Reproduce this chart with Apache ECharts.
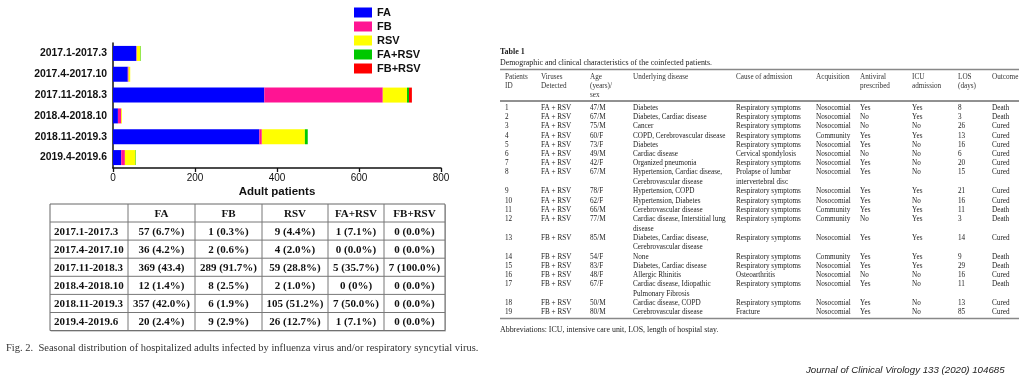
<!DOCTYPE html>
<html><head><meta charset="utf-8">
<script src="https://cdn.jsdelivr.net/npm/echarts@6/dist/echarts.min.js"></script>
<style>html,body{margin:0;padding:0;background:#fff}#c{width:1027px;height:382px}</style>
</head><body><div id="c"></div>
<script>
// ---------- Figure 2 data ----------
const periods = ['2017.1-2017.3','2017.4-2017.10','2017.11-2018.3','2018.4-2018.10','2018.11-2019.3','2019.4-2019.6'];
const seriesNames = ['FA','FB','RSV','FA+RSV','FB+RSV'];
const faCounts = [57,36,369,12,357,20];
const fbCounts = [1,2,289,8,6,9];
const rsvCounts = [9,4,59,2,105,26];
const faRsvCounts = [1,0,5,0,7,1];
const fbRsvCounts = [0,0,7,0,0,0];
const faPct = ['6.7%','4.2%','43.4','1.4%','42.0%','2.4%'];
const fbPct = ['0.3%','0.6%','91.7%','2.5%','1.9%','2.9%'];
const rsvPct = ['4.4%','2.0%','28.8%','1.0%','51.2%','12.7%'];
const faRsvPct = ['7.1%','0.0%','35.7%','0%','50.0%','7.1%'];
const fbRsvPct = ['0.0%','0.0%','100.0%','0.0%','0.0%','0.0%'];
const xTicks = [0,200,400,600,800];
const caption = 'Fig. 2.  Seasonal distribution of hospitalized adults infected by influenza virus and/or respiratory syncytial virus.';

// ---------- Table 1 data ----------
const t1Title = 'Table 1';
const t1Subtitle = 'Demographic and clinical characteristics of the coinfected patients.';
const t1Headers = ['Patients\nID','Viruses\nDetected','Age\n(years)/\nsex','Underlying disease','Cause of admission','Acquisition','Antiviral\nprescribed','ICU\nadmission','LOS\n(days)','Outcome'];
const patientIds = ['1','2','3','4','5','6','7','8','9','10','11','12','13','14','15','16','17','18','19'];
const viruses = ['FA + RSV','FA + RSV','FA + RSV','FA + RSV','FA + RSV','FA + RSV','FA + RSV','FA + RSV','FA + RSV','FA + RSV','FA + RSV','FA + RSV','FB + RSV','FB + RSV','FB + RSV','FB + RSV','FB + RSV','FB + RSV','FB + RSV'];
const ageSex = ['47/M','67/M','75/M','60/F','73/F','49/M','42/F','67/M','78/F','62/F','66/M','77/M','85/M','54/F','83/F','48/F','67/F','50/M','80/M'];
const underlying = ['Diabetes','Diabetes, Cardiac disease','Cancer','COPD, Cerebrovascular disease','Diabetes','Cardiac disease','Organized pneumonia','Hypertension, Cardiac disease,\nCerebrovascular disease','Hypertension, COPD','Hypertension, Diabetes','Cerebrovascular disease','Cardiac disease, Interstitial lung\ndisease','Diabetes, Cardiac disease,\nCerebrovascular disease','None','Diabetes, Cardiac disease','Allergic Rhinitis','Cardiac disease, Idiopathic\nPulmonary Fibrosis','Cardiac disease, COPD','Cerebrovascular disease'];
const causes = ['Respiratory symptoms','Respiratory symptoms','Respiratory symptoms','Respiratory symptoms','Respiratory symptoms','Cervical spondylosis','Respiratory symptoms','Prolapse of lumbar\nintervertebral disc','Respiratory symptoms','Respiratory symptoms','Respiratory symptoms','Respiratory symptoms','Respiratory symptoms','Respiratory symptoms','Respiratory symptoms','Osteoarthritis','Respiratory symptoms','Respiratory symptoms','Fracture'];
const acquisition = ['Nosocomial','Nosocomial','Nosocomial','Community','Nosocomial','Nosocomial','Nosocomial','Nosocomial','Nosocomial','Nosocomial','Community','Community','Nosocomial','Community','Nosocomial','Nosocomial','Nosocomial','Nosocomial','Nosocomial'];
const antiviral = ['Yes','No','No','Yes','Yes','No','Yes','Yes','Yes','Yes','Yes','No','Yes','Yes','Yes','No','Yes','Yes','Yes'];
const icu = ['Yes','Yes','No','Yes','No','No','No','No','Yes','No','Yes','Yes','Yes','Yes','Yes','No','No','No','No'];
const los = ['8','3','26','13','16','6','20','15','21','16','11','3','14','9','29','16','11','13','85'];
const outcome = ['Death','Death','Cured','Cured','Cured','Cured','Cured','Cured','Cured','Cured','Death','Death','Cured','Death','Death','Cured','Death','Cured','Cured'];
const t1Footnote = 'Abbreviations: ICU, intensive care unit, LOS, length of hospital stay.';
const journal = 'Journal of Clinical Virology 133 (2020) 104685';

// ---------- build ----------
const colors = ['#0000ff','#ff1493','#ffff00','#00c800','#ff0000'];
const counts = [faCounts,fbCounts,rsvCounts,faRsvCounts,fbRsvCounts];
const pcts = [faPct,fbPct,rsvPct,faRsvPct,fbRsvPct];

const g = [];
function txt(s,x,y,font,opt){ opt=opt||{}; g.push({type:'text',silent:true,style:Object.assign({text:s,x:x,y:y,font:font,fill:opt.fill||'#111',textAlign:opt.align||'left',textVerticalAlign:opt.va||'middle'},opt.lh?{lineHeight:opt.lh}:{})}); }
function line(x1,y1,x2,y2,stroke,w){ g.push({type:'line',silent:true,shape:{x1,y1,x2,y2},style:{stroke:stroke,lineWidth:w}}); }

// Left table (summary of Fig. 2)
const colX = [50,128,195,262,328,384,445];
const rowY = [204,222];
for(let i=0;i<6;i++) rowY.push(222+18.1*(i+1));
const tf = 'bold 11px "Liberation Serif", "Times New Roman", serif';
g.push({type:'rect',silent:true,shape:{x:51,y:205,width:colX[6]-50,height:rowY[7]-204},style:{fill:'#bbb'}});
g.push({type:'rect',silent:true,shape:{x:50,y:204,width:colX[6]-50,height:rowY[7]-204},style:{fill:'#fff',stroke:'#666',lineWidth:1}});
for(let i=1;i<colX.length-1;i++) line(colX[i],204,colX[i],rowY[7],'#777',1);
for(let j=1;j<rowY.length-1;j++) line(50,rowY[j],colX[6],rowY[j],'#777',1);
seriesNames.forEach((n,k)=>txt(n,(colX[k+1]+colX[k+2])/2,(rowY[0]+rowY[1])/2+1,tf,{align:'center'}));
periods.forEach((p,i)=>{
  const cy=(rowY[i+1]+rowY[i+2])/2+1;
  txt(p,54,cy,tf);
  for(let k=0;k<5;k++) txt(counts[k][i]+' ('+pcts[k][i]+')',(colX[k+1]+colX[k+2])/2,cy,tf,{align:'center'});
});
txt(caption,6,348,'10.5px "Liberation Serif", "DejaVu Serif", serif',{fill:'#333'});

// Table 1
const sf = '7.9px "Liberation Serif", "DejaVu Serif", serif';
const cf = '7.2px "Liberation Serif", "DejaVu Serif", serif';
txt(t1Title,500,52,'bold 8px "Liberation Serif", serif',{fill:'#222'});
txt(t1Subtitle,500,63,sf,{fill:'#222'});
line(500,69.5,1019,69.5,'#888',1.6);
const hx = [505,541,590,633,736,816,860,912,958,992];
t1Headers.forEach((h,k)=>txt(h,hx[k],72,cf,{va:'top',lh:9.4,fill:'#333'}));
line(500,101,1019,101,'#222',1);
const cols = [patientIds,viruses,ageSex,underlying,causes,acquisition,antiviral,icu,los,outcome];
let y=108;
for(let r=0;r<patientIds.length;r++){
  let n=1;
  cols.forEach((c,k)=>{ const s=c[r]; n=Math.max(n,s.split('\n').length); txt(s,hx[k],y-4.6,cf,{va:'top',lh:9.6,fill:'#222'}); });
  y += n===1?9.2:18.9;
}
line(500,318.5,1019,318.5,'#888',1.6);
txt(t1Footnote,500,330,sf,{fill:'#222'});
txt(journal,806,370,'italic 9.7px "Liberation Sans", Arial, sans-serif',{fill:'#222'});

const chart = echarts.init(document.getElementById('c'),null,{renderer:'canvas'});
chart.setOption({
  animation:false,
  backgroundColor:'#fff',
  color:colors,
  legend:{
    orient:'vertical', left:349, top:2, itemWidth:18, itemHeight:10, itemGap:3,
    icon:'rect', selectedMode:false,
    textStyle:{fontFamily:'"Liberation Sans", Arial, sans-serif',fontWeight:'bold',fontSize:11,color:'#111',padding:[0,0,0,0]},
    data:seriesNames
  },
  grid:{left:113,right:586,top:43,bottom:214,containLabel:false},
  xAxis:{
    type:'value',min:0,max:800,interval:200,
    axisLine:{show:true,lineStyle:{color:'#111',width:1.5}},
    axisTick:{show:true,length:4,lineStyle:{color:'#111',width:1.3}},
    splitLine:{show:false},
    axisLabel:{color:'#111',fontSize:10,fontFamily:'"Liberation Sans", Arial, sans-serif',margin:5},
    name:'Adult patients',nameLocation:'middle',nameGap:18,
    nameTextStyle:{fontWeight:'bold',fontSize:11.5,color:'#111',fontFamily:'"Liberation Sans", Arial, sans-serif'}
  },
  yAxis:{
    type:'category',inverse:true,data:periods,
    axisLine:{lineStyle:{color:'#111',width:1.5}},
    axisTick:{alignWithLabel:true,length:4,lineStyle:{color:'#111',width:1.3}},
    axisLabel:{color:'#111',fontSize:10.4,fontWeight:'bold',fontFamily:'"Liberation Sans", Arial, sans-serif',margin:6}
  },
  series:seriesNames.map((n,k)=>({name:n,type:'bar',stack:'total',barWidth:15,data:counts[k],itemStyle:{color:colors[k]}})),
  graphic:g
});
</script></body></html>
